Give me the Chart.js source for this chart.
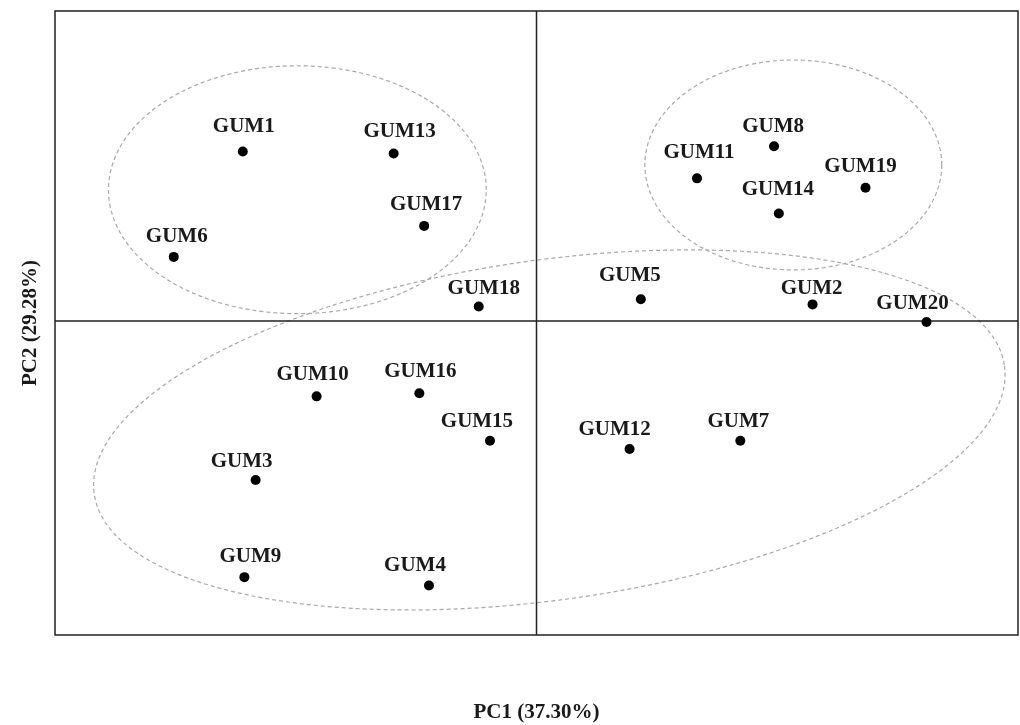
<!DOCTYPE html>
<html>
<head>
<meta charset="utf-8">
<title>PCA - GUM</title>
<script src="https://cdn.jsdelivr.net/npm/chart.js@4/dist/chart.umd.min.js"></script>
<style>
    html, body { margin: 0; padding: 0; background: #fff; }
    #wrap { width: 1020px; height: 725px; }
</style>
</head>
<body>
<div id="wrap"><canvas id="pcaChart" width="1020" height="725"></canvas></div>
<script>
// Sample names and scores
const sampleNames = ['GUM1', 'GUM13', 'GUM17', 'GUM6', 'GUM18', 'GUM5', 'GUM8', 'GUM11', 'GUM19', 'GUM14',
    'GUM2', 'GUM20', 'GUM10', 'GUM16', 'GUM15', 'GUM12', 'GUM7', 'GUM3', 'GUM9', 'GUM4'];
const pc1Scores = [-1.83, -0.89, -0.70, -2.26, -0.36, 0.65, 1.48, 1.00, 2.05, 1.51,
    1.72, 2.43, -1.37, -0.73, -0.29, 0.58, 1.27, -1.75, -1.82, -0.67];
const pc2Scores = [1.64, 1.62, 0.92, 0.62, 0.14, 0.21, 1.69, 1.38, 1.29, 1.04,
    0.16, -0.01, -0.73, -0.70, -1.16, -1.24, -1.16, -1.54, -2.48, -2.56];

// Group ellipses in data units: centre + two conjugate half-axes
const groupCenters = [[-1.49, 1.27], [1.60, 1.51], [0.08, -1.055]];
const groupAxisU = [[1.177, 0], [0.925, 0], [2.836, 0.620]];
const groupAxisV = [[0, 1.200], [0, 1.016], [0.148, -1.629]];

// Axis ranges
const pc1Range = [-3, 3];
const pc2Range = [-3.04, 3];

// Label nudges in pixels (dx, dy) relative to each point
const labelShift = [[1, -25], [6, -22], [2, -21], [3, -20], [5, -18], [-11, -24], [-1, -20], [2, -26], [-5, -21], [-1, -24],
    [-1, -16], [-14, -18], [-4, -22], [1, -22], [-13, -19], [-15, -19], [-2, -19], [-14, -18], [6, -21], [-14, -20]];

const serifFont = '"Liberation Serif", "Times New Roman", serif';

const frameAndGroups = {
    id: 'frameAndGroups',
    beforeDatasetsDraw(chart) {
        const ctx = chart.ctx;
        const area = chart.chartArea;
        const xs = chart.scales.x;
        const ys = chart.scales.y;

        // dashed group ellipses
        ctx.save();
        ctx.strokeStyle = '#a8a8a8';
        ctx.lineWidth = 1.2;
        ctx.setLineDash([4, 3]);
        groupCenters.forEach((c, i) => {
            const u = groupAxisU[i];
            const v = groupAxisV[i];
            ctx.beginPath();
            for (let k = 0; k <= 180; k++) {
                const t = k / 180 * Math.PI * 2;
                const px = xs.getPixelForValue(c[0] + u[0] * Math.cos(t) + v[0] * Math.sin(t));
                const py = ys.getPixelForValue(c[1] + u[1] * Math.cos(t) + v[1] * Math.sin(t));
                if (k === 0) ctx.moveTo(px, py); else ctx.lineTo(px, py);
            }
            ctx.closePath();
            ctx.stroke();
        });
        ctx.restore();

        // outer box and zero lines
        ctx.save();
        ctx.strokeStyle = '#222';
        ctx.lineWidth = 1.5;
        ctx.strokeRect(area.left, area.top, area.right - area.left, area.bottom - area.top);
        const x0 = xs.getPixelForValue(0);
        const y0 = ys.getPixelForValue(0);
        ctx.beginPath();
        ctx.moveTo(x0, area.top);
        ctx.lineTo(x0, area.bottom);
        ctx.moveTo(area.left, y0);
        ctx.lineTo(area.right, y0);
        ctx.stroke();
        ctx.restore();
    },
    afterDatasetsDraw(chart) {
        const ctx = chart.ctx;
        const meta = chart.getDatasetMeta(0);
        ctx.save();
        ctx.font = 'bold 21px ' + serifFont;
        ctx.fillStyle = '#1a1a1a';
        ctx.textAlign = 'center';
        ctx.textBaseline = 'middle';
        meta.data.forEach((pt, i) => {
            ctx.fillText(sampleNames[i], pt.x + labelShift[i][0], pt.y + labelShift[i][1]);
        });
        ctx.restore();
    }
};

document.addEventListener('DOMContentLoaded', function() {
    const points = pc1Scores.map((x, i) => ({ x: x, y: pc2Scores[i] }));

    new Chart(document.getElementById('pcaChart'), {
        type: 'scatter',
        data: {
            datasets: [{
                label: 'Samples',
                data: points,
                pointRadius: 5,
                pointHoverRadius: 5,
                pointBackgroundColor: '#000',
                pointBorderWidth: 0
            }]
        },
        options: {
            responsive: false,
            animation: false,
            layout: {
                autoPadding: false,
                padding: { top: 11, right: 2, bottom: 0, left: 0 }
            },
            plugins: {
                legend: { display: false },
                tooltip: { enabled: false }
            },
            scales: {
                x: {
                    min: pc1Range[0],
                    max: pc1Range[1],
                    grid: { display: false },
                    border: { display: false },
                    ticks: { display: false },
                    title: {
                        display: true,
                        text: 'PC1 (37.30%)',
                        color: '#1a1a1a',
                        font: { family: serifFont, size: 21, weight: 'bold' },
                        padding: { top: 56.8, bottom: 0 }
                    }
                },
                y: {
                    min: pc2Range[0],
                    max: pc2Range[1],
                    grid: { display: false },
                    border: { display: false },
                    ticks: { display: false },
                    title: {
                        display: true,
                        text: 'PC2 (29.28%)',
                        color: '#1a1a1a',
                        font: { family: serifFont, size: 21, weight: 'bold' },
                        padding: { top: 18.4, bottom: 3.4 }
                    }
                }
            }
        },
        plugins: [frameAndGroups]
    });
});
</script>
</body>
</html>
